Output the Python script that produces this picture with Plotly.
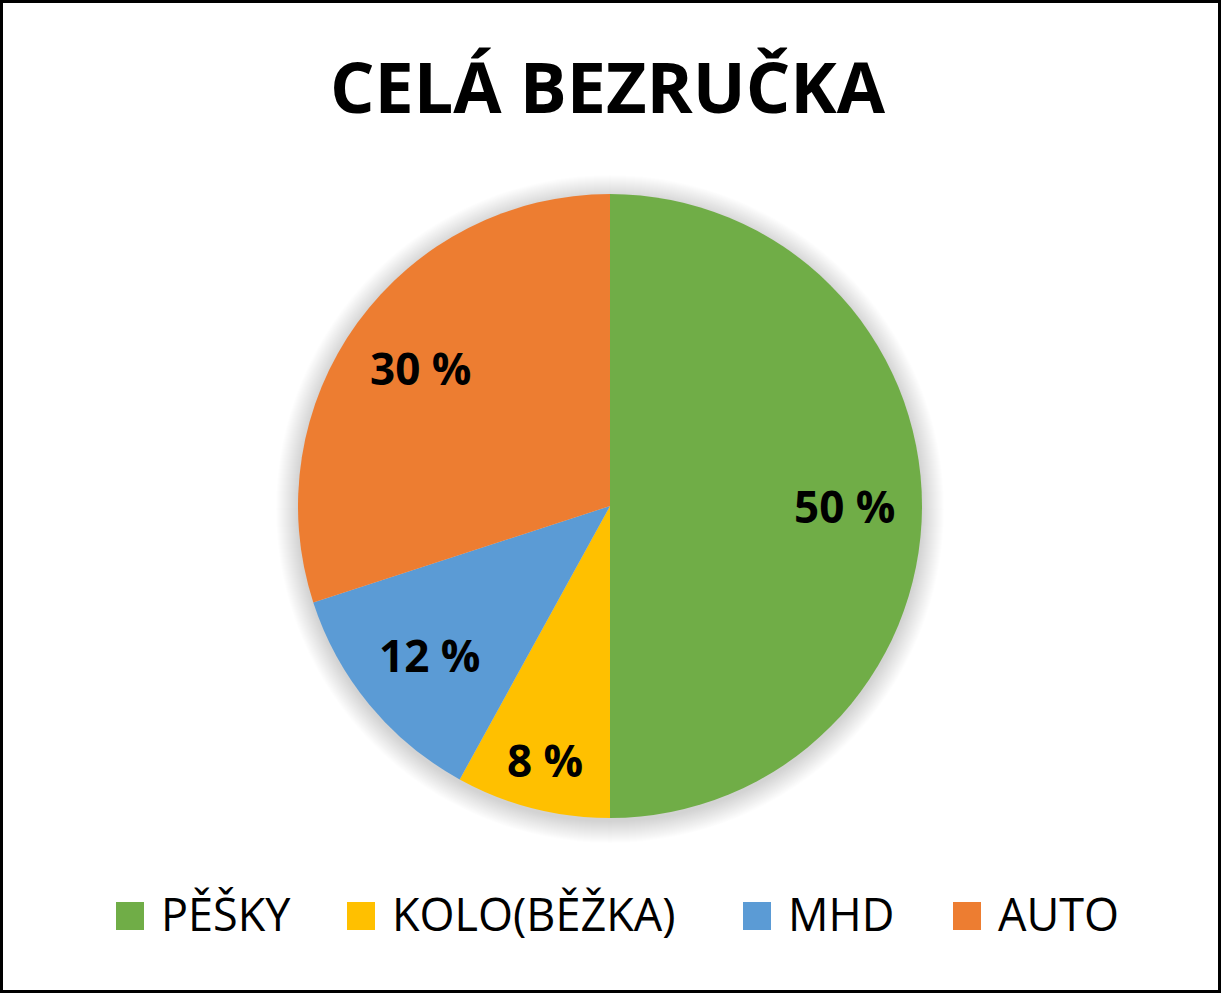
import math
import plotly.graph_objects as go

categories = ["PĚŠKY", "KOLO(BĚŽKA)", "MHD", "AUTO"]
values = [50, 8, 12, 30]
colors = ["#70AD47", "#FFC000", "#5B9BD5", "#ED7D31"]
title_text = "CELÁ BEZRUČKA"

W, H = 1221, 993
FONT = "'Open Sans', sans-serif"

cx, cy, R = 610, 506, 312  # pixel layout of the pie (from top-left)

def px(x):
    return x / W

def py(y):
    return 1 - y / H

fig = go.Figure()
fig.add_trace(go.Pie(
    labels=categories,
    values=values,
    marker=dict(colors=colors, line=dict(width=0)),
    sort=False,
    direction="clockwise",
    rotation=0,
    textinfo="none",
    domain=dict(x=[px(cx - R), px(cx + R)], y=[py(cy + R), py(cy - R)]),
    showlegend=False,
    hoverinfo="label+percent",
))

shapes = []
# soft shadow glow behind pie
for i in range(22, 0, -1):
    r = R + i
    shapes.append(dict(type="circle", xref="paper", yref="paper",
                       x0=px(cx - r), x1=px(cx + r), y0=py(cy + r + 3), y1=py(cy - r + 3),
                       fillcolor="rgba(0,0,0,0.008)", line=dict(width=0), layer="below"))
# border
shapes.append(dict(type="rect", xref="paper", yref="paper",
                   x0=px(1.5), x1=px(W - 1.5), y0=py(H - 1.5), y1=py(1.5),
                   line=dict(color="black", width=3), fillcolor="rgba(0,0,0,0)"))

annotations = []

# data labels placed at slice mid-angles (best-fit style)
total = sum(values)
cum = 0
for v in values:
    mid = (cum + v / 2) / total * 2 * math.pi  # clockwise from 12 o'clock
    cum += v
    frac = 0.84 if v / total < 0.1 else 0.75
    lx = cx + R * frac * math.sin(mid)
    ly = cy - R * frac * math.cos(mid)
    annotations.append(dict(text=f"<b>{round(v / total * 100)} %</b>", xref="paper", yref="paper",
                            x=px(lx), y=py(ly), xanchor="center", yanchor="middle",
                            showarrow=False,
                            font=dict(family=FONT, size=44, color="black")))

# custom legend
legend_x = [116, 347, 743, 953]
for name, col, lx in zip(categories, colors, legend_x):
    shapes.append(dict(type="rect", xref="paper", yref="paper",
                       x0=px(lx), x1=px(lx + 28), y0=py(930), y1=py(902),
                       fillcolor=col, line=dict(width=0)))
    annotations.append(dict(text=name, xref="paper", yref="paper",
                            x=px(lx + 43), y=py(913), xanchor="left", yanchor="middle",
                            showarrow=False,
                            font=dict(family=FONT, size=45, color="black")))

annotations.append(dict(text="<b>" + title_text + "</b>", xref="paper", yref="paper",
                        x=px(608), y=py(86), xanchor="center", yanchor="middle",
                        showarrow=False,
                        font=dict(family=FONT, size=70, color="black")))

fig.update_layout(
    width=W, height=H,
    margin=dict(l=0, r=0, t=0, b=0),
    paper_bgcolor="white",
    plot_bgcolor="white",
    shapes=shapes,
    annotations=annotations,
)

fig.write_html("out.html", config={"displayModeBar": False},
               post_script="document.body.style.margin='0';")
